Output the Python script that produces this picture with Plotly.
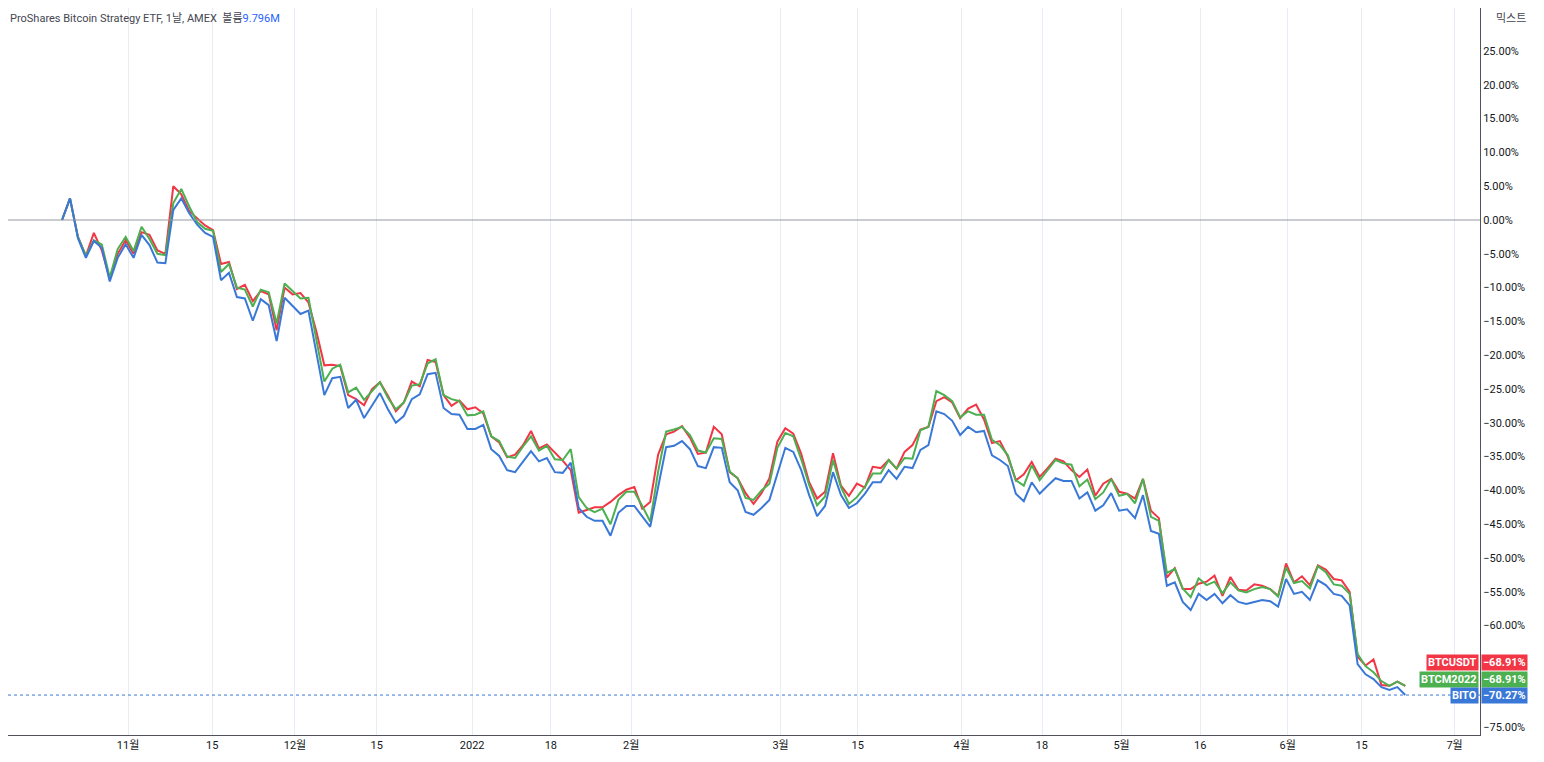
import plotly.graph_objects as go

# BITO / BTCUSDT / BTCM2022 % change since first bar, daily bars
bito = [0, 3.2, -2.7, -5.6, -3.1, -4.1, -9.1, -5.6, -3.6, -5.6,
        -2.2, -3.7, -6.3, -6.4, 1.5, 3.2, 1.0, -0.7, -1.9, -2.5,
        -8.9, -7.8, -11.4, -11.6, -14.9, -11.7, -12.6, -17.9, -11.5, -12.7,
        -13.9, -13.4, -19.5, -25.9, -23.4, -23.2, -27.8, -26.6, -29.3, -27.5,
        -25.6, -28.0,
        -30.0, -29.0, -26.5, -25.8, -22.8, -22.6, -27.8, -28.7, -28.8, -30.9,
        -30.9, -30.3, -33.9, -34.9, -37.0, -37.3, -35.7, -34.2, -35.7, -35.2,
        -37.3, -37.4, -35.9, -42.6, -43.9, -44.5, -44.5, -46.7, -43.3, -42.3,
        -42.3, -43.9, -45.4, -39.5, -33.6, -33.4, -32.7, -33.9, -36.4, -36.7,
        -33.6, -33.7, -38.8, -40.0,
        -43.2, -43.6, -42.6, -41.4, -37.4, -33.7, -34.3, -37.0, -40.7, -43.8,
        -42.3, -37.3, -40.7, -42.6, -41.9, -40.5, -38.8, -38.8, -37.0, -38.3,
        -36.5, -36.7, -34.0, -33.3, -28.3, -28.7, -29.7, -31.8, -30.6, -31.4,
        -31.2, -34.8, -35.5, -36.4, -40.5, -41.6, -38.8, -40.5, -39.3, -38.2,
        -38.6, -38.6, -41.2, -40.3,
        -43.0, -42.2, -40.4, -43.0, -42.8, -44.1, -40.7, -46.0, -46.4, -54.1,
        -53.6, -56.5, -57.7, -55.3, -56.2, -55.3, -56.7, -55.5, -56.5, -56.8,
        -56.5, -56.2, -56.4, -57.2, -53.1, -55.3, -55.0, -56.2, -53.3, -54.0,
        -55.3, -55.6, -57.0, -65.7, -67.2, -67.9, -69.1, -69.5, -69.1, -70.27]

btcusdt = [0, 3.2, -2.5, -5.3, -1.9, -4.5, -8.7, -5.0, -3.0, -5.0,
           -1.8, -2.2, -4.5, -5.0, 5.0, 3.8, 1.3, 0.3, -0.8, -1.5,
           -6.5, -6.2, -10.2, -9.6, -12.0, -10.5, -11.0, -16.3, -10.0, -11.0,
           -10.8, -12.2, -16.5, -21.5, -21.4, -21.6, -25.9, -26.5, -27.4, -25.0,
           -24.0, -26.0,
           -28.3, -27.0, -23.9, -24.6, -20.7, -21.0, -25.9, -27.5, -26.7, -28.0,
           -27.7, -28.6, -32.0, -32.9, -35.1, -34.7, -33.3, -31.2, -33.8, -33.2,
           -34.4, -35.6, -37.0, -43.3, -42.9, -42.5, -42.5, -41.7, -40.7, -39.9,
           -39.5, -42.7, -41.7, -34.7, -31.7, -31.3, -30.5, -32.2, -34.6, -34.4,
           -30.6, -31.7, -37.3, -38.2,
           -40.4, -42.0, -40.4, -38.2, -32.8, -30.8, -31.6, -34.6, -38.8, -41.2,
           -40.2, -34.5, -39.3, -40.8, -39.0, -39.6, -36.5, -36.7, -35.5, -36.8,
           -34.3, -33.3, -31.0, -30.6, -26.8, -26.2, -27.0, -29.3, -27.9, -27.3,
           -29.5, -33.0, -32.7, -35.0, -38.5, -37.6, -35.8, -38.0, -36.7, -35.3,
           -35.7, -37.0, -38.0, -36.9,
           -40.8, -39.0, -38.3, -40.2, -40.5, -41.2, -38.3, -43.0, -44.1, -52.9,
           -51.5, -54.6, -54.6, -53.8, -53.5, -52.6, -55.6, -52.8, -54.7, -54.8,
           -53.9, -54.1, -54.6, -55.6, -50.8, -53.6, -52.7, -54.0, -51.1, -51.7,
           -53.1, -53.3, -55.0, -64.6, -65.9, -65.0, -68.8, -68.9, -68.3, -68.91]

btcm2022 = [0, 3.2, -2.5, -5.3, -3.0, -3.6, -8.5, -4.3, -2.5, -4.6,
            -1.0, -2.8, -5.0, -5.2, 2.5, 4.6, 2.0, -0.3, -1.3, -1.6,
            -7.7, -6.5, -10.0, -10.3, -12.8, -10.3, -10.7, -15.3, -9.4, -10.5,
            -11.6, -11.5, -17.5, -23.9, -22.0, -21.4, -25.5, -24.8, -26.6, -25.3,
            -24.0, -26.3,
            -28.0, -27.0, -24.5, -24.3, -21.2, -20.6, -25.9, -26.5, -26.8, -28.9,
            -28.8, -28.3, -32.0, -32.7, -35.0, -35.2, -33.5, -32.0, -34.1, -33.4,
            -35.4, -35.5, -33.9, -41.0, -42.6, -43.2, -42.7, -45.0, -41.4, -40.2,
            -40.2, -42.3, -44.6, -37.2, -31.3, -31.0, -30.6, -31.8, -34.1, -34.4,
            -32.3, -32.4, -37.2, -38.2,
            -41.1, -41.4, -40.0, -39.0, -33.7, -31.5, -32.0, -35.4, -39.2, -42.2,
            -40.9, -35.5, -39.5, -42.0, -41.0, -39.5, -37.5, -37.5, -35.5, -36.8,
            -35.2, -35.3, -31.1, -30.6, -25.3, -25.9, -26.8, -29.2, -28.3, -28.8,
            -28.8, -32.5, -33.3, -34.8, -38.5, -39.3, -36.3, -38.5, -37.0, -35.5,
            -36.0, -36.2, -39.4, -38.4,
            -41.3, -40.3, -38.3, -40.8, -40.5, -41.9, -38.3, -43.9, -44.5, -52.2,
            -51.6, -54.5, -55.8, -53.0, -54.0, -53.5, -55.2, -53.6, -54.8, -55.1,
            -54.6, -54.3, -54.6, -55.7, -51.4, -53.7, -53.4, -54.5, -51.2, -52.1,
            -53.9, -54.1, -55.3, -64.2, -66.0, -66.9, -68.2, -68.9, -68.3, -68.91]

x_labels = ['11월', '15', '12월', '15', '2022', '18', '2월', '3월', '15', '4월', '18', '5월', '16', '6월', '15', '7월']
x_label_bar = [8.3, 18.9, 29.3, 39.6, 51.6, 61.5, 71.6, 90.4, 100.1, 113.2, 123.3, 133.3, 143.2, 154.2, 163.5, 175.2]
y_ticks = list(range(25, -80, -5))

n = len(bito)
idx = list(range(n))

RED = '#f23645'
GREEN = '#4caf50'
BLUE = '#3a78d8'
TXT = '#131722'

fig = go.Figure()
fig.add_trace(go.Scatter(x=idx, y=btcusdt, mode='lines', name='BTCUSDT', line=dict(color=RED, width=2)))
fig.add_trace(go.Scatter(x=idx, y=btcm2022, mode='lines', name='BTCM2022', line=dict(color=GREEN, width=2)))
fig.add_trace(go.Scatter(x=idx, y=bito, mode='lines', name='BITO', line=dict(color=BLUE, width=2)))

fig.add_hline(y=0, line=dict(color='#9598a1', width=1))
fig.add_hline(y=bito[-1], line=dict(color=BLUE, width=1, dash='dot'))

def fmt(v):
    s = f'{abs(v):.2f}%'
    return ('−' + s) if v < 0 else s

fig.update_layout(
    width=1536, height=754,
    margin=dict(l=0, r=64, t=0, b=27),
    paper_bgcolor='white', plot_bgcolor='white',
    showlegend=False,
    font=dict(family='Roboto, "Noto Sans CJK KR", sans-serif', size=11, color=TXT),
    xaxis=dict(range=[-6.8, 178.4], tickvals=x_label_bar, ticktext=x_labels,
               showgrid=True, gridcolor='#e6edf5', zeroline=False,
               showline=True, linecolor='#50535e', ticks='', tickfont=dict(size=11, color=TXT)),
    yaxis=dict(side='right', range=[-76.18, 31.36], tickvals=y_ticks, ticktext=[fmt(v) for v in y_ticks],
               showgrid=False, zeroline=False, showline=True, linecolor='#50535e',
               ticks='', tickfont=dict(size=11, color=TXT)),
)

# title and right-side tags
fig.add_annotation(xref='paper', yref='paper', x=0.0, y=1.0, xanchor='left', yanchor='top', xshift=0, yshift=-2,
                   showarrow=False,
                   text='ProShares Bitcoin Strategy ETF, 1날, AMEX  볼륨<span style="color:#2962ff">9.796M</span>',
                   font=dict(size=11, color='#434651'))
fig.add_annotation(xref='paper', yref='paper', x=1.0, y=1.0, xanchor='left', yanchor='top', xshift=14, yshift=-2,
                   showarrow=False, text='믹스트', font=dict(size=11, color='#434651'))

tags = [('BTCUSDT', btcusdt[-1], RED, -65.5), ('BTCM2022', btcm2022[-1], GREEN, -67.9), ('BITO', bito[-1], BLUE, -70.27)]
for name, val, col, ypos in tags:
    fig.add_annotation(xref='paper', yref='y', x=1.0, y=ypos, xanchor='left', xshift=1, showarrow=False,
                       text=f'<b>{fmt(val)}</b>', bgcolor=col, font=dict(size=11, color='white'), borderpad=1)
    fig.add_annotation(xref='paper', yref='y', x=1.0, y=ypos, xanchor='right', xshift=-1, showarrow=False,
                       text=f'<b>{name}</b>', bgcolor=col, font=dict(size=11, color='white'), borderpad=1)

fig.write_html('out.html')
